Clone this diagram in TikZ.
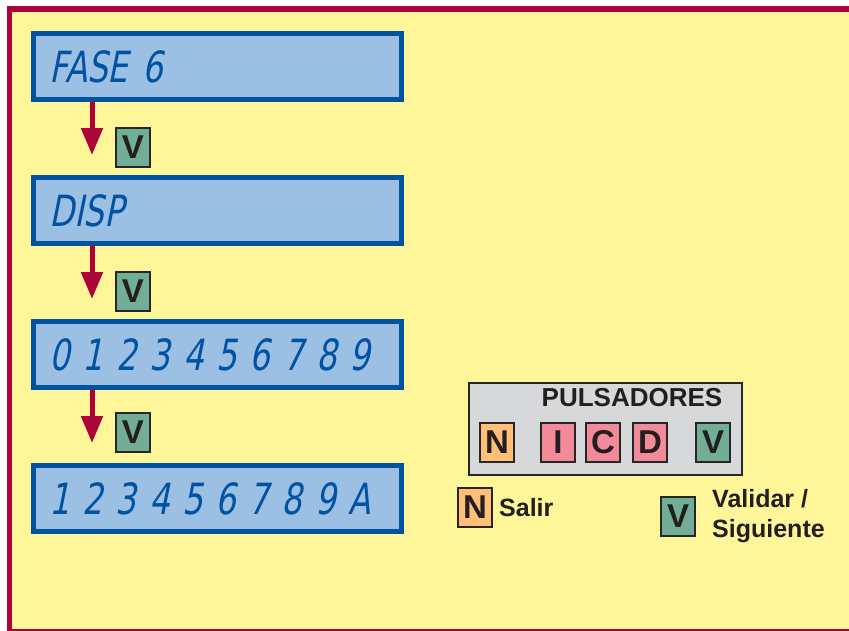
\documentclass[tikz,border=0pt]{standalone}
\usepackage{fontspec}
\setmainfont{Liberation Sans}
\newfontfamily\lcdfont[FakeSlant=0.2,FakeStretch=0.75]{DejaVu Sans}
\newcommand\lcdrow[1]{\makebox[321pt][s]{\spaceskip=2pt plus 40pt\relax #1}}
\usetikzlibrary{positioning,arrows.meta}

\definecolor{yellowbg}{HTML}{FFF599}
\definecolor{framered}{HTML}{AC0439}
\definecolor{lcdfill}{HTML}{9CC0E4}
\definecolor{lcdblue}{HTML}{0052A3}
\definecolor{keygreen}{HTML}{72AE96}
\definecolor{keypink}{HTML}{F38A9A}
\definecolor{keyorange}{HTML}{FFBF78}
\definecolor{panelgrey}{HTML}{D7D8DA}
\definecolor{keyline}{HTML}{262626}
\definecolor{ink}{HTML}{231F20}

\begin{document}
\begin{tikzpicture}[
    x=1pt, y=-1pt,
    lcd/.style={rectangle, draw=lcdblue, fill=lcdfill, line width=5pt, minimum width=368pt, minimum height=66pt, inner xsep=15pt, text width=336pt, align=left, text=lcdblue, font=\lcdfont\fontsize{43}{43}\selectfont},
    key/.style={rectangle, draw=keyline, line width=2pt, minimum width=34pt, minimum height=39pt, inner sep=0pt, text=ink, font=\fontsize{33}{33}\selectfont\bfseries},
    vkey/.style={key, fill=keygreen},
    nkey/.style={key, fill=keyorange},
    mkey/.style={key, fill=keypink},
    flow/.style={-{Triangle[width=21pt,length=27pt]}, line width=5pt, draw=framered, shorten >=20pt},
    legend/.style={inner sep=0pt, align=left, text=ink, font=\fontsize{25}{30}\selectfont\bfseries}
]
\useasboundingbox (0,0) rectangle (849,630);
\clip (0,0) rectangle (849,630);
\fill[white] (0,0) rectangle (849,630);
\draw[line width=5.4pt, draw=framered, fill=yellowbg] (9.5,9) rectangle (870,632);

% Display steps (left column)
\node[lcd, anchor=north west] at (31,31) (fase) {FASE 6};
\node[lcd, below=73pt of fase] (disp) {DISP};
\node[lcd, below=73pt of disp] (digits) {\lcdrow{0 1 2 3 4 5 6 7 8 9}};
\node[lcd, below=73pt of digits] (shifted) {\lcdrow{1 2 3 4 5 6 7 8 9 A}};

% Arrows between steps
\draw[flow] ([xshift=61pt]fase.south west) -- ([xshift=61pt]disp.north west);
\draw[flow] ([xshift=61pt]disp.south west) -- ([xshift=61pt]digits.north west);
\draw[flow] ([xshift=61pt]digits.south west) -- ([xshift=61pt]shifted.north west);

% Validate keys
\node[vkey, below right=25pt and 84pt of fase.south west] (v1) {V};
\node[vkey, below right=25pt and 84pt of disp.south west] (v2) {V};
\node[vkey, below right=22pt and 84pt of digits.south west] (v3) {V};

% Button panel
\node[rectangle, draw=keyline, fill=panelgrey, line width=2pt, minimum width=273pt, minimum height=92pt, anchor=north west] at (468,382) (panel) {};
\node[text=ink, font=\fontsize{26}{26}\selectfont\bfseries] at (632,397.5) (ptitle) {PULSADORES};
\node[nkey, below right=40pt and 11pt of panel.north west] (pn) {N};
\node[mkey, right=25pt of pn] (pi) {I};
\node[mkey, right=9pt of pi] (pc) {C};
\node[mkey, right=11pt of pc] (pd) {D};
\node[vkey, right=27pt of pd] (pv) {V};

% Legend
\node[nkey, anchor=north west] at (457,487) (ln) {N};
\node[legend, right=6pt of ln] (lsalir) {Salir};
\node[vkey, anchor=north west] at (660,496) (lv) {V};
\node[legend, right=16pt of lv] (lvalidar) {Validar /\\Siguiente};

\end{tikzpicture}
\end{document}
